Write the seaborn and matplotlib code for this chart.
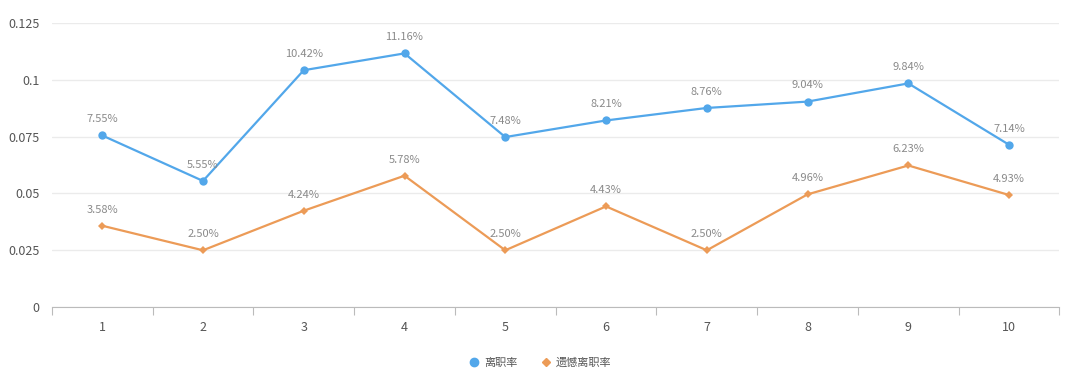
import matplotlib
matplotlib.use("Agg")
import matplotlib.pyplot as plt
import matplotlib.ticker as mticker
import seaborn as sns
import pandas as pd

months = ["1", "2", "3", "4", "5", "6", "7", "8", "9", "10"]
attrition = [0.0755, 0.0555, 0.1042, 0.1116, 0.0748, 0.0821, 0.0876, 0.0904, 0.0984, 0.0714]
regret_attrition = [0.0358, 0.0250, 0.0424, 0.0578, 0.0250, 0.0443, 0.0250, 0.0496, 0.0623, 0.0493]
series_names = ["离职率", "遗憾离职率"]

df = pd.concat([
    pd.DataFrame({"month": months, "rate": attrition, "series": series_names[0]}),
    pd.DataFrame({"month": months, "rate": regret_attrition, "series": series_names[1]}),
])
df["pos"] = df["month"].map({m: i for i, m in enumerate(months)})

sns.set_style("white")
plt.rcParams["font.family"] = ["Noto Sans CJK SC", "DejaVu Sans"]

fig = plt.figure(figsize=(10.8, 3.82), dpi=100)
ax = fig.add_axes([0.048, 0.196, 0.933, 0.744])

palette = {series_names[0]: "#52a7ea", series_names[1]: "#ec9b57"}
sns.lineplot(data=df, x="pos", y="rate", hue="series", style="series",
             markers={series_names[0]: "o", series_names[1]: "D"}, dashes=False,
             palette=palette, linewidth=1.6, markersize=6, markeredgewidth=0,
             ax=ax, legend=False)
# shrink diamond markers a bit
for line in ax.get_lines():
    if line.get_marker() == "D":
        line.set_markersize(4.5)

for s, vals in zip(series_names, [attrition, regret_attrition]):
    for i, v in enumerate(vals):
        ax.annotate(f"{v * 100:.2f}%", (i, v), xytext=(0, 8), textcoords="offset points",
                    ha="center", va="bottom", fontsize=8, color="#8a8a8a")

ax.set_xlim(-0.5, len(months) - 0.5)
ax.set_ylim(0, 0.125)
ax.set_yticks([0, 0.025, 0.05, 0.075, 0.1, 0.125])
ax.yaxis.set_major_formatter(mticker.FuncFormatter(lambda v, p: f"{v:g}"))
ax.set_xticks(range(len(months)))
ax.set_xticklabels(months)
ax.set_xticks([i - 0.5 for i in range(len(months) + 1)], minor=True)
ax.tick_params(axis="x", which="major", bottom=True, length=0, pad=10, labelsize=9, colors="#555555")
ax.tick_params(axis="x", which="minor", bottom=True, length=6, width=0.8, color="#bbbbbb", direction="out")
ax.tick_params(axis="y", length=0, pad=9, labelsize=9, colors="#555555")
ax.grid(axis="y", color="#ebebeb", linewidth=1)
ax.set_xlabel("")
ax.set_ylabel("")
for side in ["top", "right", "left"]:
    ax.spines[side].set_visible(False)
ax.spines["bottom"].set_color("#bbbbbb")

handles = [
    plt.Line2D([], [], color=palette[series_names[0]], marker="o", linestyle="none", markersize=6),
    plt.Line2D([], [], color=palette[series_names[1]], marker="D", linestyle="none", markersize=4.5),
]
fig.legend(handles, series_names, loc="center", bbox_to_anchor=(0.5, 0.05), ncol=2,
           frameon=False, fontsize=8, handlelength=1.0, columnspacing=2.0,
           labelcolor="#555555", handletextpad=0.4)

fig.savefig("out.png", dpi=100)
